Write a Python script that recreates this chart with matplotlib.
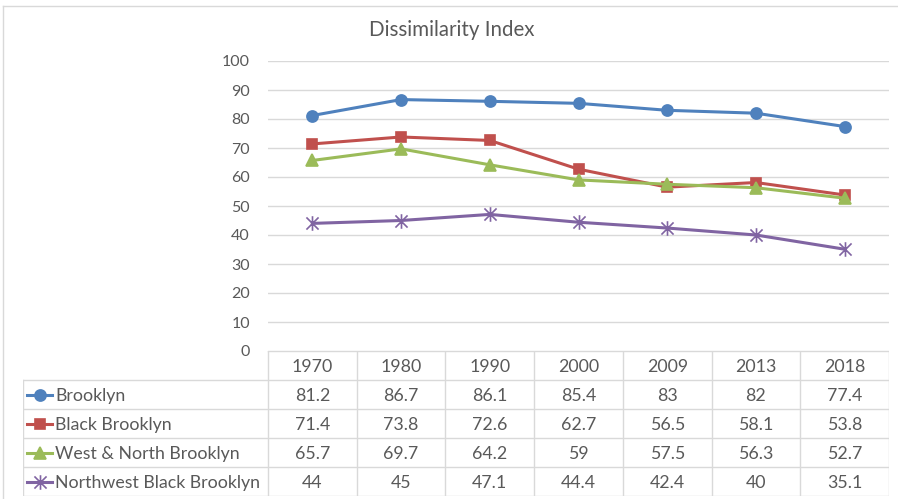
import matplotlib
matplotlib.use("Agg")
import matplotlib.pyplot as plt
from matplotlib.path import Path
from matplotlib.lines import Line2D

years = ["1970", "1980", "1990", "2000", "2009", "2013", "2018"]
series_names = ["Brooklyn", "Black Brooklyn", "West & North Brooklyn",
                "Northwest Black Brooklyn"]
brooklyn = [81.2, 86.7, 86.1, 85.4, 83, 82, 77.4]
black_brooklyn = [71.4, 73.8, 72.6, 62.7, 56.5, 58.1, 53.8]
west_north = [65.7, 69.7, 64.2, 59, 57.5, 56.3, 52.7]
nw_black = [44, 45, 47.1, 44.4, 42.4, 40, 35.1]
yticks = [0, 10, 20, 30, 40, 50, 60, 70, 80, 90, 100]

W, H = 898, 499
GRID = "#D9D9D9"
TEXT = "#595959"
FS = 12.8
plt.rcParams['font.family'] = ['Lato', 'DejaVu Sans']

# Excel-style "star" marker: an X with a vertical stroke
star = Path([(-0.5, -0.5), (0.5, 0.5), (-0.5, 0.5), (0.5, -0.5), (0, -0.6), (0, 0.6)],
            [Path.MOVETO, Path.LINETO, Path.MOVETO, Path.LINETO, Path.MOVETO, Path.LINETO])

styles = [
    dict(color="#4F81BD", marker="o", ms=8),
    dict(color="#C0504D", marker="s", ms=7),
    dict(color="#9BBB59", marker="^", ms=8),
    dict(color="#8064A2", marker=star, ms=10.5),
]
values = [brooklyn, black_brooklyn, west_north, nw_black]

fig = plt.figure(figsize=(W / 100, H / 100), dpi=100)

# plot area (pixel box 268..889 x 61..351)
L, R, T, B = 268, 889, 61, 351
ax = fig.add_axes([L / W, 1 - B / H, (R - L) / W, (B - T) / H])
x = list(range(len(years)))
for vals, st in zip(values, styles):
    ax.plot(x, vals, color=st["color"], lw=2.2, marker=st["marker"],
            ms=st["ms"], mfc=st["color"], mec=st["color"], mew=1.2, zorder=3)
ax.set_xlim(-0.5, len(years) - 0.5)
ax.set_ylim(0, 100)
ax.set_yticks(yticks)
ax.set_yticklabels([str(v) for v in yticks])
ax.set_xticks([])
ax.tick_params(axis="y", length=0, pad=13, labelsize=11.5, labelcolor=TEXT)
ax.grid(axis="y", color=GRID, lw=1)
ax.set_axisbelow(True)
for s in ax.spines.values():
    s.set_visible(False)

# data table below the plot, sharing the column positions
colw = (R - L) / len(years)
TL, TB = 23, 496
xl = -0.5 - (L - TL) / colw
tax = fig.add_axes([TL / W, 1 - TB / H, (R - TL) / W, (TB - B) / H])
tax.set_xlim(xl, len(years) - 0.5)
nrows = len(series_names) + 1
tax.set_ylim(nrows, 0)
tax.axis("off")

def px2x(px):
    return -0.5 + (px - L) / colw

tax.plot([-0.5, len(years) - 0.5], [0, 0], color=GRID, lw=1)
for r in range(1, nrows + 1):
    tax.plot([xl, len(years) - 0.5], [r, r], color=GRID, lw=1)
for c in range(len(years) + 1):
    tax.plot([c - 0.5, c - 0.5], [0, nrows], color=GRID, lw=1)
tax.plot([xl, xl], [1, nrows], color=GRID, lw=1)

for c, yr in enumerate(years):
    tax.text(c, 0.55, yr, ha="center", va="center", fontsize=FS, color=TEXT)
for r, (name, vals, st) in enumerate(zip(series_names, values, styles), start=1):
    tax.plot([px2x(27), px2x(52)], [r + 0.5, r + 0.5], color=st["color"], lw=2.2)
    tax.plot([px2x(39.5)], [r + 0.5], color=st["color"], marker=st["marker"],
             ms=st["ms"], mfc=st["color"], mec=st["color"], mew=1.2)
    tax.text(px2x(55), r + 0.55, name, ha="left", va="center", fontsize=FS, color=TEXT)
    for c, v in enumerate(vals):
        tax.text(c, r + 0.55, f"{v:g}", ha="center", va="center", fontsize=FS, color=TEXT)

fig.text(452 / W, 1 - 30 / H, "Dissimilarity Index", ha="center", va="center",
         fontsize=14.8, color=TEXT)

# chart frame (left and top edges visible)
fig.add_artist(Line2D([3 / W, 3 / W], [0, 1 - 6 / H], transform=fig.transFigure, color=GRID, lw=1))
fig.add_artist(Line2D([3 / W, 1], [1 - 6 / H, 1 - 6 / H], transform=fig.transFigure, color=GRID, lw=1))

fig.savefig("out.png", dpi=100)
